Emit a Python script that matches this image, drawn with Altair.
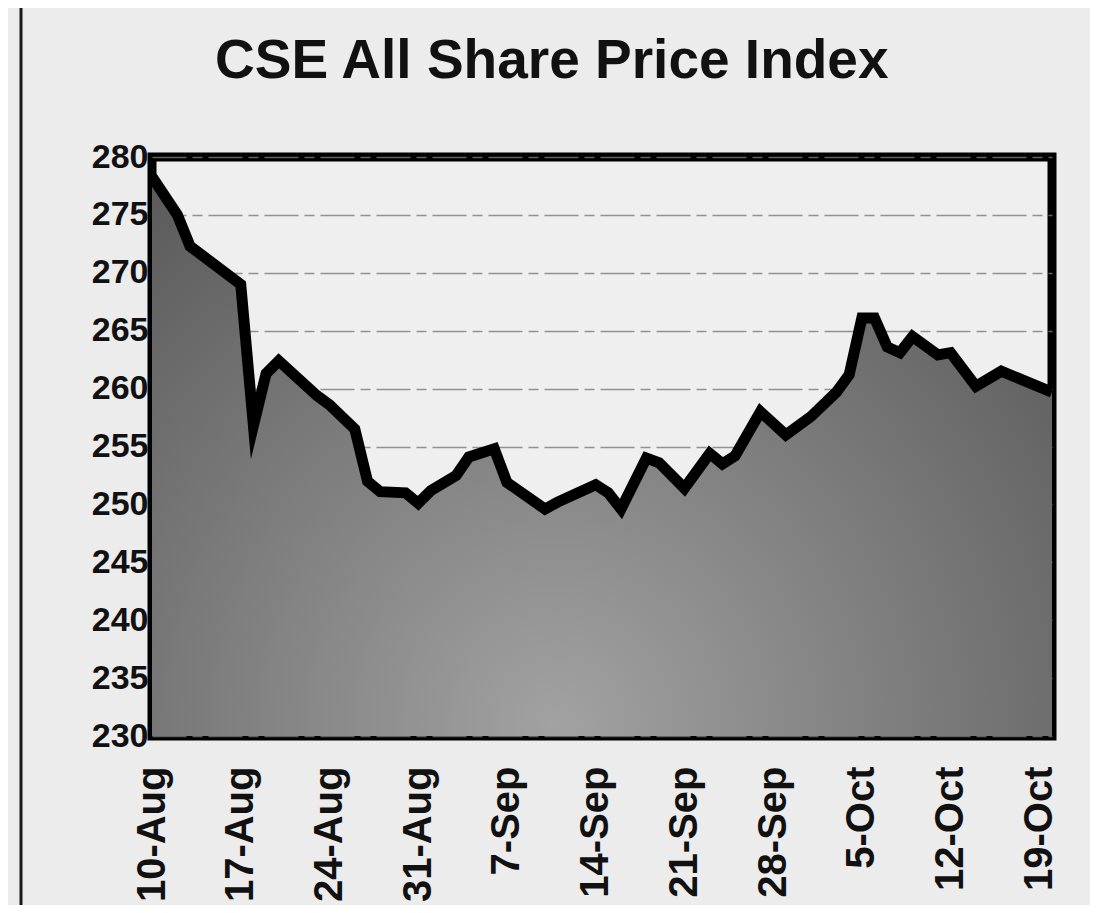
import altair as alt
import pandas as pd

YEAR = 1998
dates = ["Aug 10", "Aug 12", "Aug 13", "Aug 17", "Aug 18", "Aug 19", "Aug 20", "Aug 23",
         "Aug 24", "Aug 26", "Aug 27", "Aug 28", "Aug 30", "Aug 31", "Sep 1", "Sep 3",
         "Sep 4", "Sep 6", "Sep 7", "Sep 10", "Sep 11", "Sep 14", "Sep 15", "Sep 16",
         "Sep 18", "Sep 19", "Sep 21", "Sep 23", "Sep 24", "Sep 25", "Sep 27", "Sep 29",
         "Oct 1", "Oct 3", "Oct 4", "Oct 5", "Oct 6", "Oct 7", "Oct 8", "Oct 9",
         "Oct 11", "Oct 12", "Oct 14", "Oct 16", "Oct 20"]
values = [278.3, 275.0, 272.3, 269.0, 256.8, 261.3, 262.4, 259.4,
          258.6, 256.5, 252.0, 251.1, 251.0, 250.1, 251.2, 252.5,
          254.1, 254.8, 251.9, 249.6, 250.2, 251.7, 251.0, 249.6,
          254.0, 253.6, 251.4, 254.4, 253.5, 254.2, 258.0, 256.0,
          257.6, 259.7, 261.2, 266.1, 266.1, 263.6, 263.1, 264.5,
          262.9, 263.1, 260.2, 261.5, 259.7]
tick_dates = ["Aug 10", "Aug 17", "Aug 24", "Aug 31", "Sep 7", "Sep 14", "Sep 21",
              "Sep 28", "Oct 5", "Oct 12", "Oct 19"]
y_ticks = [230, 235, 240, 245, 250, 255, 260, 265, 270, 275, 280]
x_start, x_end = "Aug 10", "Oct 20"
title_text = "CSE All Share Price Index"


def dt(s):
    m, d = s.split()
    return alt.DateTime(year=YEAR, month=m, date=int(d))


df = pd.DataFrame({"date": [f"{d}, {YEAR}" for d in dates], "value": values})

x_enc = alt.X(
    "date:T",
    scale=alt.Scale(domain=[dt(x_start), dt(x_end)]),
    axis=alt.Axis(values=[dt(s) for s in tick_dates], format="%-d-%b", labelAngle=270,
                  title=None, grid=False, domain=False, ticks=False, labelPadding=30,
                  labelFont="Liberation Sans", labelFontWeight="bold", labelFontSize=40,
                  labelColor="#111111", labelFlush=False, labelOverlap=False),
)
y_enc = alt.Y(
    "value:Q",
    scale=alt.Scale(domain=[230, 280], nice=False, zero=False),
    axis=alt.Axis(values=y_ticks, title=None, domain=False, ticks=False, labelPadding=4,
                  labelFont="Liberation Sans", labelFontWeight="bold", labelFontSize=34,
                  labelColor="#111111", grid=True, gridColor="#7a7a7a", gridWidth=1.5,
                  gridDash=[34, 6, 10, 6], gridOpacity=0.8, labelFlush=False,
                  labelOverlap=False),
)

fill = alt.Gradient(
    gradient="radial",
    stops=[alt.GradientStop(color="#a2a2a2", offset=0),
           alt.GradientStop(color="#7c7c7c", offset=0.5),
           alt.GradientStop(color="#565656", offset=1)],
    x1=0.45, y1=0.8, r1=0, x2=0.45, y2=0.8, r2=0.8,
)

base = alt.Chart(df).encode(x=x_enc, y=y_enc)
area = base.mark_area(color=fill, clip=True).encode(y2=alt.datum(230))
line = base.mark_line(color="black", strokeWidth=11, strokeJoin="miter",
                      strokeMiterLimit=10, clip=True)

border = alt.Chart(pd.DataFrame({"k": [0]})).mark_rule(color="#1a1a1a", strokeWidth=3).encode(
    x=alt.value(-131), y=alt.value(-160), y2=alt.value(760)
)

chart = alt.layer(area, line, border).properties(
    width=900,
    height=579,
    padding={"left": 144, "top": 149, "right": 38, "bottom": 169},
    autosize=alt.AutoSizeParams(type="none"),
    background="#ececec",
    title=alt.TitleParams(title_text, anchor="start", frame="group", dx=63, offset=-137,
                          fontSize=55, font="Liberation Sans", fontWeight="bold",
                          color="#111111", baseline="alphabetic"),
).configure_view(stroke="black", strokeWidth=9, fill="#efefef")

chart.save("out.html", embed_options={"renderer": "svg", "actions": False})
